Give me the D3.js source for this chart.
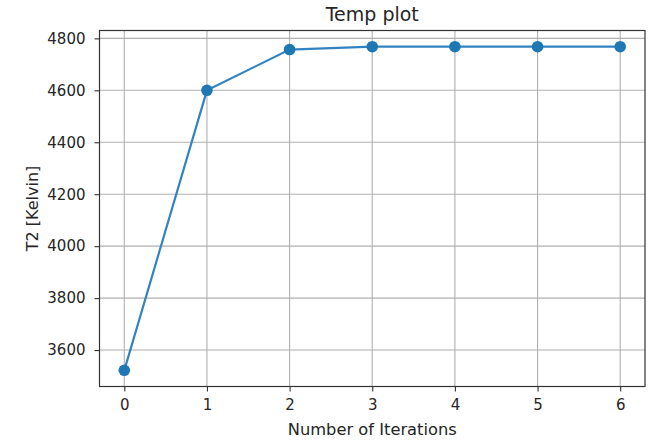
<!DOCTYPE html>
<html>
<head>
<meta charset="utf-8">
<script src="https://cdn.jsdelivr.net/npm/d3@7"></script>
<style>
  html, body { margin: 0; padding: 0; background: #fff; }
  svg { display: block; }
  text { font-family: "DejaVu Sans", sans-serif; fill: #262626; }
</style>
</head>
<body>
<div id="chart"></div>
<script>
const iterations = [0, 1, 2, 3, 4, 5, 6];
const temperatures = [3522, 4600, 4757, 4768, 4768, 4768, 4768];
const yTicks = [3600, 3800, 4000, 4200, 4400, 4600, 4800];
const xTicks = [0, 1, 2, 3, 4, 5, 6];
const title = "Temp plot";
const xLabel = "Number of Iterations";
const yLabel = "T2 [Kelvin]";

const W = 650, H = 440;
const m = { left: 99.5, right: 5, top: 30.5, bottom: 53.5 };

const svg = d3.select("#chart").append("svg").attr("width", W).attr("height", H);

const xExt = d3.extent(iterations), xPad = (xExt[1] - xExt[0]) * 0.05;
const yExt = d3.extent(temperatures), yPad = (yExt[1] - yExt[0]) * 0.05;

const x = d3.scaleLinear().domain([xExt[0] - xPad, xExt[1] + xPad]).range([m.left, W - m.right]);
const y = d3.scaleLinear().domain([yExt[0] - yPad, yExt[1] + yPad]).range([H - m.bottom, m.top]);

// grid
const grid = svg.append("g");
grid.selectAll(".gx").data(xTicks).enter().append("line")
  .attr("x1", d => x(d)).attr("x2", d => x(d))
  .attr("y1", m.top).attr("y2", H - m.bottom)
  .attr("stroke", "#b0b0b0").attr("stroke-width", 1.1);
grid.selectAll(".gy").data(yTicks).enter().append("line")
  .attr("y1", d => y(d)).attr("y2", d => y(d))
  .attr("x1", m.left).attr("x2", W - m.right)
  .attr("stroke", "#b0b0b0").attr("stroke-width", 1.1);

// axes
const xAxis = d3.axisBottom(x).tickValues(xTicks).tickFormat(d3.format("d")).tickSize(5).tickPadding(8);
const yAxis = d3.axisLeft(y).tickValues(yTicks).tickFormat(d3.format("d")).tickSize(5).tickPadding(9);

const gx = svg.append("g").attr("transform", `translate(0,${H - m.bottom})`).call(xAxis);
const gy = svg.append("g").attr("transform", `translate(${m.left},0)`).call(yAxis);
[gx, gy].forEach(g => {
  g.select(".domain").remove();
  g.selectAll(".tick line").attr("stroke", "#333").attr("stroke-width", 1.1);
  g.selectAll(".tick text").attr("font-family", "DejaVu Sans, sans-serif").attr("font-size", 15).attr("fill", "#262626");
});

// frame
svg.append("rect")
  .attr("x", m.left).attr("y", m.top)
  .attr("width", W - m.right - m.left).attr("height", H - m.bottom - m.top)
  .attr("fill", "none").attr("stroke", "#333").attr("stroke-width", 1.2);

// line
const line = d3.line().x((d, i) => x(iterations[i])).y(d => y(d));
svg.append("path").datum(temperatures)
  .attr("d", line).attr("fill", "none")
  .attr("stroke", "#3283c0").attr("stroke-width", 2.2);

svg.selectAll(".pt").data(temperatures).enter().append("circle")
  .attr("cx", (d, i) => x(iterations[i])).attr("cy", d => y(d))
  .attr("r", 5.8).attr("fill", "#1f77b4");

// title & labels
svg.append("text").attr("x", (m.left + W - m.right) / 2).attr("y", 21)
  .attr("text-anchor", "middle").attr("font-size", 19).text(title);
svg.append("text").attr("x", (m.left + W - m.right) / 2).attr("y", 435)
  .attr("text-anchor", "middle").attr("font-size", 16.3).text(xLabel);
svg.append("text").attr("transform", `translate(37.5,${(m.top + H - m.bottom) / 2}) rotate(-90)`)
  .attr("text-anchor", "middle").attr("font-size", 16).text(yLabel);
</script>
</body>
</html>
